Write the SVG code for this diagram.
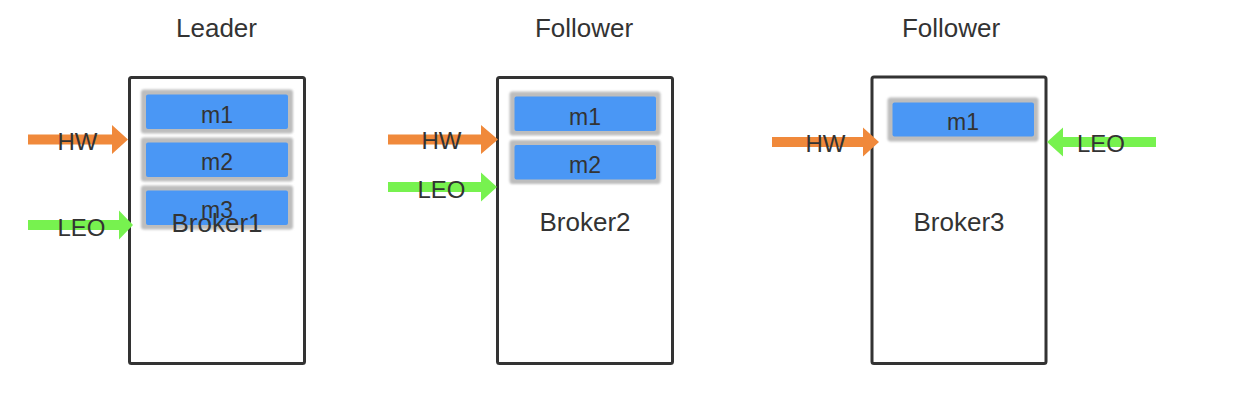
<svg xmlns="http://www.w3.org/2000/svg" width="1234" height="418" viewBox="0 0 1234 418">
  <style>
    text { font-family: "Liberation Sans", Arial, sans-serif; fill: #333333; text-anchor: middle; }
    .title { font-size: 26px; }
    .blabel { font-size: 26px; }
    .mlabel { font-size: 23px; }
    .alabel { font-size: 24px; }
    .box { fill: #ffffff; stroke: #333333; stroke-width: 3; }
    .mo { fill: #bdbdbd; filter: url(#soft); }
    .mi { fill: #4a97f5; }
    .hw { fill: #f0893a; filter: url(#soft2); }
    .leo { fill: #77f24f; filter: url(#soft2); }
  </style>
  <defs>
    <filter id="soft" x="-10%" y="-10%" width="120%" height="120%">
      <feGaussianBlur stdDeviation="1"/>
    </filter>
    <filter id="soft2" x="-5%" y="-20%" width="110%" height="140%">
      <feGaussianBlur stdDeviation="0.6"/>
    </filter>
  </defs>

  <rect width="1234" height="418" fill="#ffffff"/>

  <g id="broker1">
    <text class="title" x="216.5" y="36.5">Leader</text>
    <rect class="box" x="129.5" y="77.5" width="175" height="286" rx="2"/>
    <rect class="mo" x="141" y="89.5" width="152" height="44" rx="3"/>
    <rect class="mi" x="146" y="94.5" width="142" height="34.5" rx="2"/>
    <text class="mlabel" x="217" y="122.5">m1</text>
    <rect class="mo" x="141" y="137.5" width="152" height="44" rx="3"/>
    <rect class="mi" x="146" y="142.5" width="142" height="34.5" rx="2"/>
    <text class="mlabel" x="217" y="170.3">m2</text>
    <rect class="mo" x="141" y="185.5" width="152" height="44" rx="3"/>
    <rect class="mi" x="146" y="190.5" width="142" height="34.5" rx="2"/>
    <text class="mlabel" x="217" y="218.3">m3</text>
    <text class="blabel" x="217" y="231.5">Broker1</text>
  </g>

  <g id="broker2">
    <text class="title" x="584" y="36.5">Follower</text>
    <rect class="box" x="497.5" y="77.5" width="175" height="286" rx="2"/>
    <rect class="mo" x="509.5" y="91.5" width="151" height="44" rx="3"/>
    <rect class="mi" x="514.5" y="96.5" width="141.5" height="34.5" rx="2"/>
    <text class="mlabel" x="585" y="124.5">m1</text>
    <rect class="mo" x="509.5" y="140" width="151" height="44" rx="3"/>
    <rect class="mi" x="514.5" y="145" width="141.5" height="34.5" rx="2"/>
    <text class="mlabel" x="585" y="172.5">m2</text>
    <text class="blabel" x="585" y="231">Broker2</text>
  </g>

  <g id="broker3">
    <text class="title" x="951" y="36.5">Follower</text>
    <rect class="box" x="872" y="77" width="174" height="286.5" rx="2"/>
    <rect class="mo" x="887.5" y="97.5" width="151" height="44" rx="3"/>
    <rect class="mi" x="892.5" y="102.5" width="141.5" height="34" rx="2"/>
    <text class="mlabel" x="963" y="130">m1</text>
    <text class="blabel" x="959" y="231">Broker3</text>
  </g>

  <g id="connectors">
    <g id="b1-hw">
      <path class="hw" d="M28,134.5 H112 V125 L128,139.5 L112,154 V144.5 H28 Z"/>
      <text class="alabel" x="77.5" y="150">HW</text>
    </g>
    <g id="b1-leo">
      <path class="leo" d="M28,220 H119 V210.5 L133,225 L119,239.5 V230 H28 Z"/>
      <text class="alabel" x="81.5" y="235.5">LEO</text>
    </g>
    <g id="b2-hw">
      <path class="hw" d="M388,134.5 H481 V125 L498,139.5 L481,154 V144.5 H388 Z"/>
      <text class="alabel" x="441.5" y="149.3">HW</text>
    </g>
    <g id="b2-leo">
      <path class="leo" d="M388,182 H481 V172.5 L497,187 L481,201.5 V192 H388 Z"/>
      <text class="alabel" x="441.5" y="198">LEO</text>
    </g>
    <g id="b3-hw">
      <path class="hw" d="M772,137 H863 V127.5 L879,142 L863,156.5 V147 H772 Z"/>
      <text class="alabel" x="825.5" y="151.5">HW</text>
    </g>
    <g id="b3-leo">
      <path class="leo" d="M1156,137 H1063 V127.5 L1047,142 L1063,156.5 V147 H1156 Z"/>
      <text class="alabel" x="1101" y="151.5">LEO</text>
    </g>
  </g>
</svg>
